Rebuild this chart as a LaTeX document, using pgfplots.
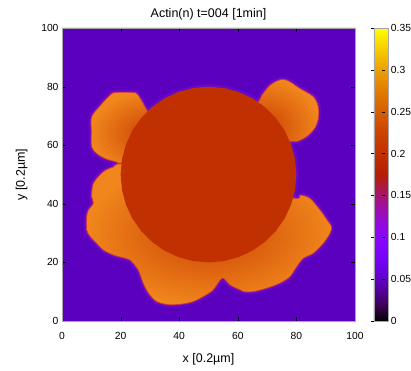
\documentclass[border=0pt]{standalone}
\usepackage{fontspec}
\setmainfont{Liberation Sans}
\usepackage{pgfplots}
\usepackage{pgfplotstable}
\pgfplotsset{compat=1.18}
\definecolor{bgc}{RGB}{90,0,190}
\definecolor{circc}{RGB}{193,48,0}
\definecolor{blobin}{RGB}{205,66,4}
\definecolor{blobout}{RGB}{240,134,28}
\definecolor{rimc}{RGB}{210,50,70}
\definecolor{haloc}{RGB}{125,25,220}

\pgfplotstableread{
x y
35 60
29.5 70.9
26.0 77.1
24.0 78.0
18.0 78.0
16.4 77.1
13.0 73.5
10.1 69.7
10.0 65.0
10.1 59.4
12.0 57.0
15.0 55.3
18.5 54.3
20.4 53.9
35 55
50 50
}\blobTL

\pgfplotstableread{
x y
35 50
20.4 53.6
17.5 52.6
14.1 51.0
10.7 47.0
10.1 42.4
10.7 40.2
9.0 37.9
8.4 35.6
8.4 31.1
9.6 28.8
11.8 26.5
14.1 24.2
17.5 22.5
21.5 21.4
23.2 20.8
26.0 17.4
27.7 12.9
29.5 9.5
32.3 6.6
36.9 5.5
42.6 6.0
44.8 6.6
48.2 8.3
51.6 10.6
54.7 14.6
57.3 12.3
60.8 10.6
61.9 10.0
65.3 10.0
69.9 11.2
74.4 12.9
77.8 15.1
80.1 18.5
82.4 21.4
85.8 23.1
89.2 26.5
91.5 29.9
92.0 32.2
90.9 33.9
88.1 37.9
84.6 41.9
81.2 43.0
79.5 41.9
60 45
}\blobLL

\pgfplotstableread{
x y
60 65
67.0 74.8
68.2 77.1
71.0 80.5
73.5 82.0
75.5 82.5
77.8 81.7
81.2 79.4
85.8 76.6
87.5 73.1
87.5 69.2
86.3 65.8
83.5 62.9
80.1 61.2
77.8 61.2
65 60
50 50
}\blobTR

\pgfplotstableread{
x y
80 50
79.54 55.21
78.19 60.26
75.98 65
72.98 69.28
69.28 72.98
65 75.98
60.26 78.19
55.21 79.54
50 80
44.79 79.54
39.74 78.19
35 75.98
30.72 72.98
27.02 69.28
24.02 65
21.81 60.26
20.46 55.21
20 50
20.46 44.79
21.81 39.74
24.02 35
27.02 30.72
30.72 27.02
35 24.02
39.74 21.81
44.79 20.46
50 20
55.21 20.46
60.26 21.81
65 24.02
69.28 27.02
72.98 30.72
75.98 35
78.19 39.74
79.54 44.79
80 50
}\circdata

\pgfplotstableread{
x y
0 0
100 0
100 100
0 100
0 0
}\bgdata

\begin{document}
\begin{tikzpicture}
\begin{axis}[
  scale only axis, width=293pt, height=293pt,
  xmin=0, xmax=100, ymin=0, ymax=100,
  xtick={0,20,40,60,80,100}, ytick={0,20,40,60,80,100},
  axis line style={gray!70},
  tick style={black},
  major tick length=4pt,
  title={Actin(n) t=004 [1min]},
  xlabel={x [0.2µm]}, ylabel={y [0.2µm]},
  xticklabel shift=8pt,
  xlabel style={at={(ticklabel cs:0.5,7pt)}},
  ylabel style={at={(ticklabel cs:0.5,7pt)}},
  tick label style={font=\fontsize{10.3}{12}\selectfont},
  label style={font=\fontsize{12.5}{14}\selectfont},
  title style={font=\fontsize{12.5}{14}\selectfont, yshift=-2pt},
  /pgf/number format/assume math mode=true,
  axis on top,
  colormap={gnu}{rgb=(0,0,0) rgb=(0.224,0,0.309) rgb=(0.316,0.001,0.588)
    rgb=(0.387,0.003,0.809) rgb=(0.447,0.008,0.951) rgb=(0.5,0.016,1)
    rgb=(0.548,0.027,0.951) rgb=(0.592,0.043,0.809) rgb=(0.632,0.064,0.588)
    rgb=(0.671,0.091,0.309) rgb=(0.707,0.125,0) rgb=(0.742,0.166,0)
    rgb=(0.775,0.216,0) rgb=(0.806,0.275,0) rgb=(0.837,0.343,0)
    rgb=(0.866,0.422,0) rgb=(0.894,0.512,0) rgb=(0.922,0.614,0)
    rgb=(0.949,0.729,0) rgb=(0.975,0.857,0) rgb=(1,1,0)},
  colorbar,
  colorbar shift/.style={xshift=7pt},
  point meta min=0, point meta max=0.35,
  colorbar style={
    width=14.5pt,
    axis line style={gray!70},
    ytick={0,0.05,0.1,0.15,0.2,0.25,0.3,0.35},
    yticklabel style={/pgf/number format/fixed, /pgf/number format/precision=2,
      /pgf/number format/assume math mode=true, font=\fontsize{10.3}{12}\selectfont,
      xshift=-1pt},
    major tick length=3pt,
    ytick style={black, xshift=-3pt},
  },
]
\addplot[draw=none, fill=bgc] table {\bgdata};
\addplot[draw=haloc, line width=5pt, line join=round, opacity=0.35] table {\circdata};
\addplot[draw=haloc, line width=5pt, line join=round, opacity=0.35, smooth, tension=0.5] table {\blobTL};
\addplot[draw=haloc, line width=5pt, line join=round, opacity=0.35, smooth, tension=0.5] table {\blobLL};
\addplot[draw=haloc, line width=5pt, line join=round, opacity=0.35, smooth, tension=0.5] table {\blobTR};
\addplot[inner color=blobin, outer color=blobout, draw=rimc, line width=0.8pt, line join=round, smooth, tension=0.5] table {\blobTL};
\addplot[inner color=blobin, outer color=blobout, draw=rimc, line width=0.8pt, line join=round, smooth, tension=0.5] table {\blobLL};
\addplot[inner color=blobin, outer color=blobout, draw=rimc, line width=0.8pt, line join=round, smooth, tension=0.5] table {\blobTR};
\addplot[fill=circc, draw=none] table {\circdata};
\end{axis}
\pgfresetboundingbox
\path[use as bounding box] (-62pt,-49pt) rectangle (349pt,321pt);
\end{tikzpicture}
\end{document}
